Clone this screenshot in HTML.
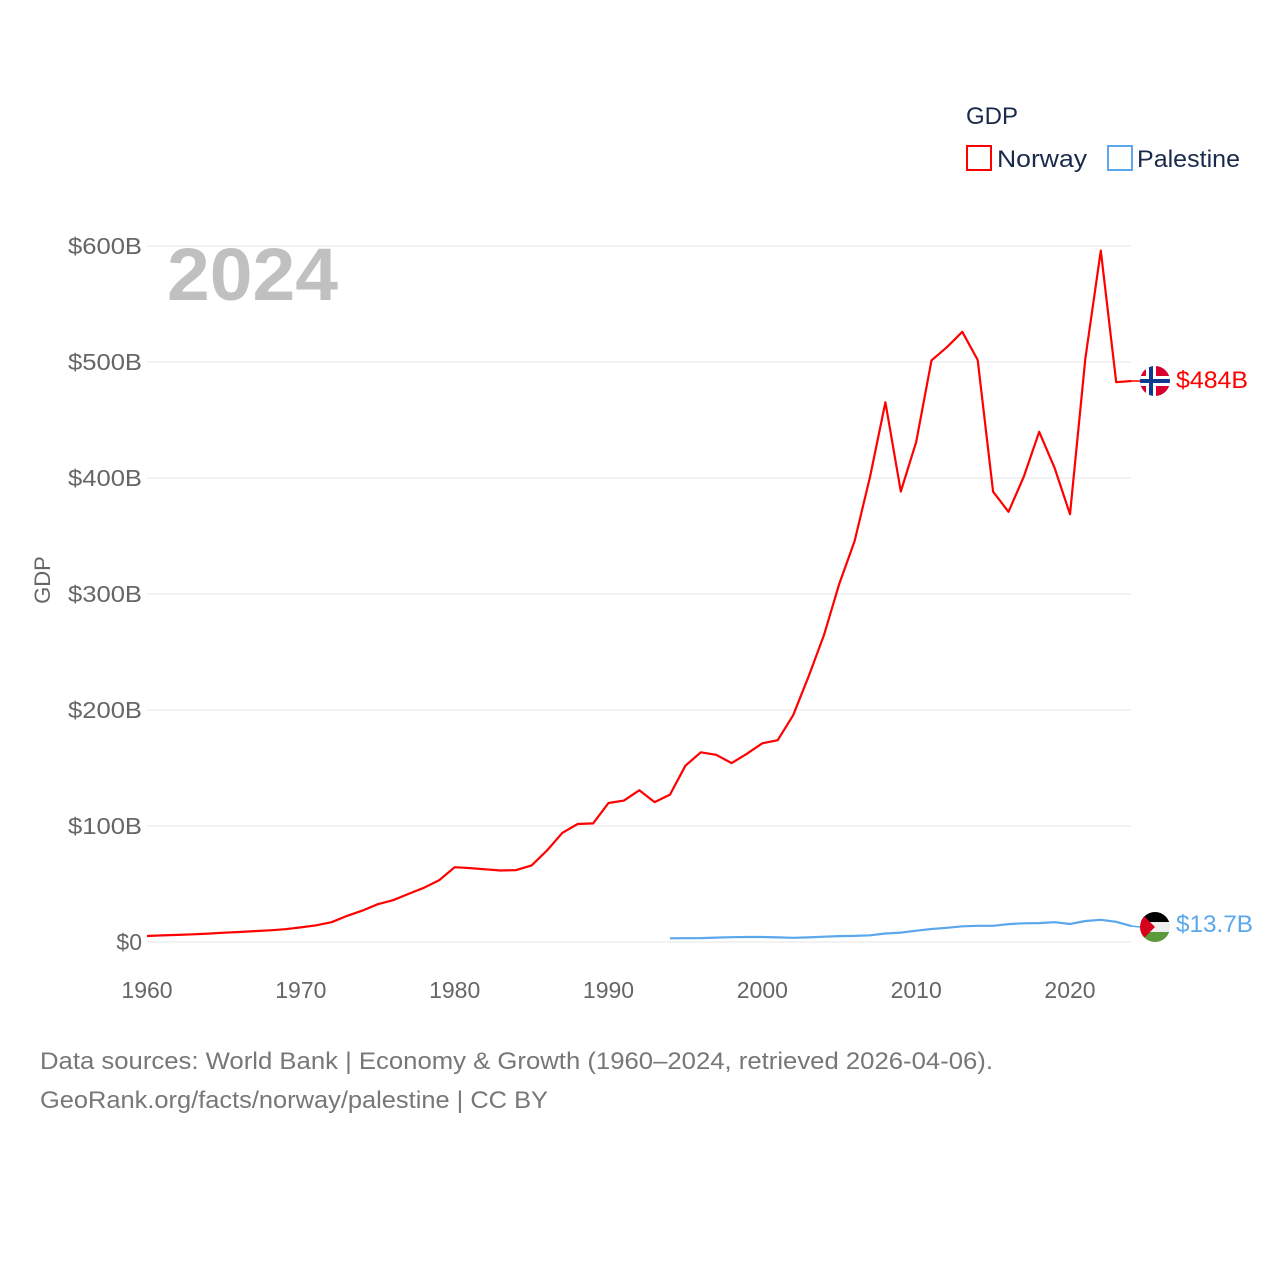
<!DOCTYPE html>
<html><head><meta charset="utf-8"><style>
body{margin:0;background:#fff;width:1280px;height:1280px;overflow:hidden}
svg text{font-family:"Liberation Sans",sans-serif}
</style></head><body>
<svg id="chart" width="1280" height="1280" xmlns="http://www.w3.org/2000/svg">
<defs>
<clipPath id="cn"><circle cx="1155" cy="381" r="15"/></clipPath>
<clipPath id="cp"><circle cx="1155" cy="927" r="15"/></clipPath>
</defs>
<g id="grid"></g>
<g id="yticks"></g>
<g id="xticks"></g>
<text x="167" y="300" font-size="74" font-weight="bold" fill="#c0c0c0" textLength="171" lengthAdjust="spacingAndGlyphs">2024</text>
<text transform="translate(50,580) rotate(-90)" text-anchor="middle" font-size="22" fill="#666">GDP</text>
<g id="lines"></g>
<text x="966" y="124" font-size="24" fill="#1a2a4a">GDP</text>
<g>
<rect x="967" y="146" width="24" height="24" fill="none" stroke="#ff0000" stroke-width="2"/>
<text x="997" y="167" font-size="24" fill="#1a2a4a" textLength="90" lengthAdjust="spacingAndGlyphs">Norway</text></g>
<g>
<rect x="1108" y="146" width="24" height="24" fill="none" stroke="#5aa7ec" stroke-width="2"/>
<text x="1137" y="167" font-size="24" fill="#1a2a4a" textLength="103" lengthAdjust="spacingAndGlyphs">Palestine</text></g>
<g clip-path="url(#cn)">
<rect x="1140" y="366" width="30" height="30" fill="#d8002f"/>
<rect x="1140" y="376" width="30" height="10" fill="#fff"/>
<rect x="1146" y="366" width="10" height="30" fill="#fff"/>
<rect x="1140" y="379" width="30" height="4" fill="#0b3a8f"/>
<rect x="1149" y="366" width="4" height="30" fill="#0b3a8f"/>
</g>
<g clip-path="url(#cp)">
<rect x="1140" y="912" width="30" height="10" fill="#000"/>
<rect x="1140" y="922" width="30" height="10" fill="#eee"/>
<rect x="1140" y="932" width="30" height="10" fill="#5b9a3b"/>
<polygon points="1140,912 1155,927 1140,942" fill="#d6001c"/>
</g>
<text x="1176" y="388" font-size="24" fill="#ff0000" textLength="72" lengthAdjust="spacingAndGlyphs">$484B</text>
<text x="1176" y="932" font-size="24" fill="#5aa7ec" textLength="77" lengthAdjust="spacingAndGlyphs">$13.7B</text>
<text x="40" y="1069" font-size="24" fill="#777" textLength="953" lengthAdjust="spacingAndGlyphs">Data sources: World Bank | Economy &amp; Growth (1960–2024, retrieved 2026-04-06).</text>
<text x="40" y="1108" font-size="24" fill="#777" textLength="508" lengthAdjust="spacingAndGlyphs">GeoRank.org/facts/norway/palestine | CC BY</text>
</svg>
<script>
const norwayYears=[];for(let y=1960;y<=2024;y++)norwayYears.push(y);
const norwayGDP=[5.2,5.7,6.1,6.6,7.2,8.0,8.6,9.4,10.1,11.0,12.6,14.4,17.1,22.5,27.1,32.6,36.0,41.5,46.7,53.4,64.5,63.7,62.7,61.6,62.0,66.0,78.9,94.1,101.7,102.2,119.8,121.9,130.8,120.6,127.1,152.0,163.5,161.4,154.2,162.3,171.3,174.0,195.4,228.7,264.4,308.9,345.6,400.9,465.3,388.4,431.1,501.4,512.8,526.0,501.7,388.2,370.9,401.4,439.8,408.7,368.8,503.4,596.0,482.6,483.6];
const palYears=[];for(let y=1994;y<=2024;y++)palYears.push(y);
const palGDP=[3.2,3.3,3.4,3.8,4.1,4.3,4.3,4.0,3.6,4.0,4.6,5.1,5.3,5.8,7.3,8.1,9.7,11.2,12.2,13.5,14.0,14.0,15.4,16.1,16.3,17.1,15.5,18.1,19.1,17.4,13.7];
const yTicks=[0,100,200,300,400,500,600];
const yTickLabels=["$0","$100B","$200B","$300B","$400B","$500B","$600B"];
const xTicks=[1960,1970,1980,1990,2000,2010,2020];
const NS="http://www.w3.org/2000/svg";
const x=v=>147+(v-1960)*(1070-147)/60;
const y=v=>942-v*(942-246)/600;
function mk(t,a,p){const e=document.createElementNS(NS,t);for(const k in a)e.setAttribute(k,a[k]);p.appendChild(e);return e;}
const g=document.getElementById('grid'),yt=document.getElementById('yticks'),xt=document.getElementById('xticks'),L=document.getElementById('lines');
yTicks.forEach((v,i)=>{
 const l=mk('line',{x1:147,x2:1131,y1:y(v),y2:y(v),stroke:'#e6e6e6','stroke-width':1},g);
 
 
 const t=mk('text',{x:142,y:y(v)+8,'text-anchor':'end','font-size':23,fill:'#666'},yt);t.textContent=yTickLabels[i];
 if(yTickLabels[i].length>2){t.setAttribute('textLength',74);t.setAttribute('lengthAdjust','spacingAndGlyphs');}
 
 
});
xTicks.forEach(v=>{
 const t=mk('text',{x:x(v),y:998,'text-anchor':'middle','font-size':23,fill:'#666'},xt);t.textContent=v;
 
 
});
function line(xs,vs,c,name){
 const d=xs.map((yr,i)=>(i?'L':'M')+x(yr).toFixed(1)+','+y(vs[i]).toFixed(1)).join('');
 const p=mk('path',{d:d,fill:'none',stroke:c,'stroke-width':2.2,'stroke-linejoin':'round'},L);
 
 
 const last=vs[vs.length-1];
 const c2=mk('line',{x1:x(xs[xs.length-1]),y1:y(last),x2:1142,y2:y(last)+(name==='norway-line'?0:1),stroke:c,'stroke-width':1.5},L);
 
 
}
line(norwayYears,norwayGDP,'#ff0000','norway-line');
line(palYears,palGDP,'#5aa7ec','palestine-line');
</script>
</body></html>
